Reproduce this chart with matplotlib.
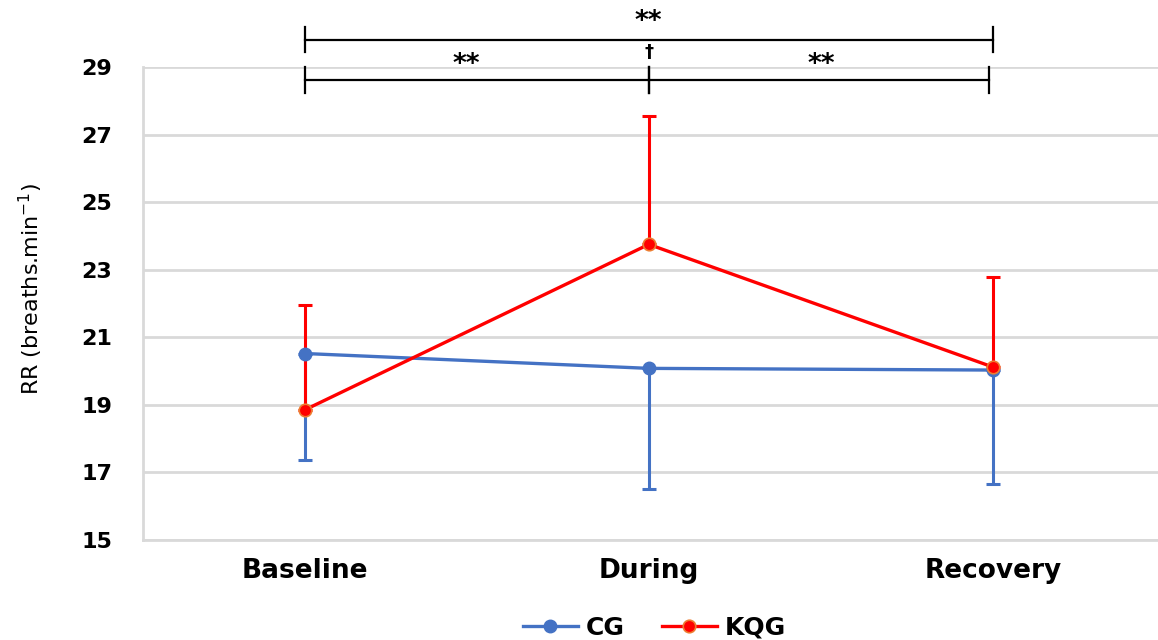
import matplotlib
matplotlib.use("Agg")
import matplotlib.pyplot as plt

categories = ["Baseline", "During", "Recovery"]
cg_mean = [20.52, 20.08, 20.03]
cg_sd = [3.15, 3.58, 3.37]
kqg_mean = [18.85, 23.75, 20.12]
kqg_sd = [3.1, 3.8, 2.67]
yticks = [15, 17, 19, 21, 23, 25, 27, 29]

plt.rcParams['font.family'] = ['DejaVu Sans']

fig = plt.figure(figsize=(11.58, 6.4), dpi=100)
ax = fig.add_axes([143/1158, 1-540/640, 1-143/1158, (540-67)/640])

x = list(range(len(categories)))
blue = "#4472C4"
red = "#FF0000"

# error bars (one-sided)
ax.errorbar(x, cg_mean, yerr=[cg_sd, [0]*3], fmt='none', ecolor=blue,
            elinewidth=2.2, capsize=5, capthick=2.2, zorder=3)
ax.errorbar(x, kqg_mean, yerr=[[0]*3, kqg_sd], fmt='none', ecolor=red,
            elinewidth=2.2, capsize=5, capthick=2.2, zorder=3)

ax.plot(x, cg_mean, color=blue, lw=2.4, marker='o', ms=9, mfc=blue, mec=blue,
        label="CG", zorder=4)
ax.plot(x, kqg_mean, color=red, lw=2.4, marker='o', ms=9, mfc=red, mec="#ED7D31",
        mew=1.2, label="KQG", zorder=5)

ax.set_xlim(-0.47, 2.48)
ax.set_ylim(15, 29)
ax.set_yticks(yticks)
ax.set_yticklabels([str(t) for t in yticks], fontsize=16, fontweight='bold')
ax.set_xticks(x)
ax.set_xticklabels(categories, fontsize=19, fontweight='bold')
ax.tick_params(axis='y', length=0, pad=22)
ax.tick_params(axis='x', length=0, pad=13)
ax.grid(axis='y', color='#d9d9d9', lw=2)
ax.axhline(15, color='#d9d9d9', lw=2, clip_on=False, zorder=0)
ax.set_axisbelow(True)
for s in ['top', 'right', 'bottom']:
    ax.spines[s].set_visible(False)
ax.spines['left'].set_color('#d9d9d9')
ax.spines['left'].set_linewidth(2)

ax.set_ylabel("RR (breaths.min$^{-1}$)", fontsize=16)
ax.yaxis.set_label_coords((45 - 143) / 1015, (540 - 289) / 473)

# significance brackets
def bracket(x0, x1, y, h_up, h_dn):
    ax.plot([x0, x1], [y, y], color='black', lw=1.6, clip_on=False, zorder=6)
    for xx in (x0, x1):
        ax.plot([xx, xx], [y - h_dn, y + h_up], color='black', lw=1.6,
                clip_on=False, zorder=6)

bracket(x[0], x[2], 29.8, 0.38, 0.36)
bracket(x[0], x[1], 28.62, 0.38, 0.39)
bracket(x[1], x[2] - 0.01, 28.62, 0.38, 0.39)
ax.text(x[1], 30.32, "**", ha='center', va='center', fontsize=19,
        fontweight='bold', clip_on=False)
ax.text((x[0] + x[1]) / 2 - 0.03, 29.05, "**", ha='center', va='center',
        fontsize=19, fontweight='bold', clip_on=False)
ax.text((x[1] + x[2]) / 2, 29.05, "**", ha='center', va='center',
        fontsize=19, fontweight='bold', clip_on=False)
ax.text(x[1], 29.45, "†", ha='center', va='center', fontsize=13,
        fontweight='bold', clip_on=False)

fig.legend(loc='center', bbox_to_anchor=(0.565, 1-628/640), ncol=2, frameon=False,
           prop={'size': 18, 'weight': 'bold'}, handlelength=2.2,
           columnspacing=1.5, handletextpad=0.3)

fig.savefig("out.png", dpi=100)
